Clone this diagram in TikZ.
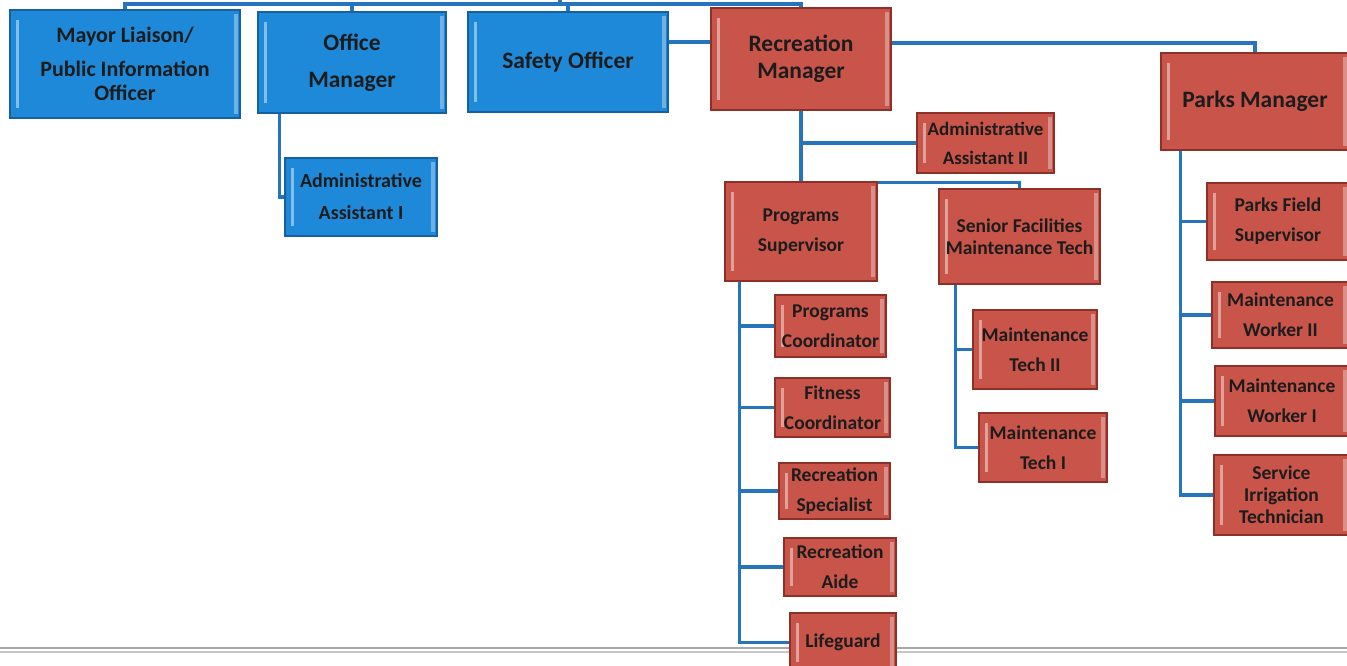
\documentclass[tikz,border=0pt]{standalone}
\usepackage{fontspec}
\setmainfont{Carlito}
\usetikzlibrary{calc}
\pgfdeclarelayer{background}
\pgfsetlayers{background,main}
\definecolor{boxblue}{RGB}{30,137,216}
\definecolor{edgeblue}{RGB}{22,96,160}
\definecolor{boxred}{RGB}{200,84,74}
\definecolor{edgered}{RGB}{140,48,40}
\definecolor{linkblue}{RGB}{38,116,188}
\definecolor{labeltext}{RGB}{28,28,28}
\tikzset{
  bevel/.style={path picture={
    \fill[white,opacity=.45] ([xshift=6pt,yshift=-10pt]path picture bounding box.north west)
      rectangle ([xshift=9pt,yshift=10pt]path picture bounding box.south west);
    \fill[white,opacity=.35] ([xshift=-6pt,yshift=-4pt]path picture bounding box.north east)
      rectangle ([xshift=-2pt,yshift=4pt]path picture bounding box.south east);
  }},
  unit/.style={draw, line width=1.2pt, inner sep=0pt, align=center,
    text=labeltext, font=\bfseries, bevel},
  bluebox/.style={unit, fill=boxblue, draw=edgeblue},
  redbox/.style={unit, fill=boxred, draw=edgered},
  big/.style={font=\fontsize{23.5}{27}\selectfont\bfseries},
  small/.style={font=\fontsize{19.5}{30}\selectfont\bfseries},
  tight/.style={font=\fontsize{19.5}{22}\selectfont\bfseries},
  conn/.style={draw=linkblue, line width=3.5pt},
}
\begin{document}
\begin{tikzpicture}[x=1pt,y=-1pt]
\useasboundingbox (0,0) rectangle (1347,665);

% department heads
\node[bluebox, minimum width=230, minimum height=108,
      font=\fontsize{22}{24}\selectfont\bfseries] (mayor) at (125,64)
      {Mayor Liaison/\\[10pt]Public Information\\Officer};
\node[bluebox, big, minimum width=188, minimum height=101,
      font=\fontsize{23.5}{37}\selectfont\bfseries] (om) at (352,62.5) {Office\\Manager};
\node[bluebox, big, minimum width=200, minimum height=100] (so) at (568,62) {Safety Officer};
\node[redbox, big, minimum width=180, minimum height=102] (rec) at (801,59) {Recreation\\Manager};
\node[redbox, big, minimum width=188, minimum height=97] (pm) at (1255,101.5) {Parks Manager};

% second level
\node[bluebox, small, minimum width=152, minimum height=78,
      font=\fontsize{20}{32}\selectfont\bfseries] (aa1) at (361,197) {Administrative\\Assistant I};
\node[redbox, small, minimum width=137, minimum height=60,
      font=\fontsize{19}{29}\selectfont\bfseries] (aa2) at (985.5,143) {Administrative\\Assistant II};
\node[redbox, small, minimum width=152, minimum height=99] (ps) at (801,231.5) {Programs\\Supervisor};
\node[redbox, tight, minimum width=161, minimum height=95] (sf) at (1019.5,236.5) {Senior Facilities\\Maintenance Tech};

% programs staff
\node[redbox, small, minimum width=111, minimum height=62] (pc) at (830.5,326) {Programs\\Coordinator};
\node[redbox, small, minimum width=115, minimum height=59] (fc) at (832.5,407.5) {Fitness\\Coordinator};
\node[redbox, small, minimum width=111, minimum height=56] (rs) at (834.5,491) {Recreation\\Specialist};
\node[redbox, small, minimum width=112, minimum height=58] (ra) at (840,567) {Recreation\\Aide};
\node[redbox, small, minimum width=106, minimum height=59] (lg) at (843,642.5) {Lifeguard};

% facilities staff
\node[redbox, small, minimum width=124, minimum height=79] (mt2) at (1035,349.5) {Maintenance\\Tech II};
\node[redbox, small, minimum width=128, minimum height=69] (mt1) at (1043,447.5) {Maintenance\\Tech I};

% parks staff
\node[redbox, small, minimum width=142, minimum height=77] (pfs) at (1278,221.5) {Parks Field\\Supervisor};
\node[redbox, small, minimum width=137, minimum height=66] (mw2) at (1280.5,315) {Maintenance\\Worker II};
\node[redbox, small, minimum width=134, minimum height=70] (mw1) at (1282,401) {Maintenance\\Worker I};
\node[redbox, tight, minimum width=135, minimum height=80] (sit) at (1281.5,495) {Service\\Irrigation\\Technician};

% connectors and page rule, kept beneath the boxes
\begin{pgfonlayer}{background}
\draw[gray!70, line width=1.5pt] (0,648) -- (1347,648);
\draw[gray!45, line width=1.2pt] (0,652) -- (1347,652);

\coordinate (bus) at (560,4);
\coordinate (up) at (560,-6);
\path[conn] (mayor.north) |- (bus) -| (rec.north);
\path[conn] (om.north) -- (om.north |- bus);
\path[conn] (so.north) -- (so.north |- bus);
\path[conn] (bus) -- (up);

\coordinate (sr) at ([yshift=20pt]so.east);
\path[conn] (sr) -- (sr -| rec.west);
\path[conn] ([yshift=16pt]rec.east) -| (pm.north);

\coordinate (omb) at ([xshift=22pt]om.south west);
\path[conn] (omb) |- (aa1.west);

\path[conn] (rec.south) -- (ps.north);
\path[conn] (rec.south |- aa2.west) -- (aa2.west);
\path[conn] ([yshift=-1pt]ps.north) -| (sf.north);

\coordinate (psb) at ([xshift=15pt]ps.south west);
\path[conn] (psb) |- (lg.west);
\foreach \k in {pc,fc,rs,ra}
  \path[conn] (psb |- \k.west) -- (\k.west);

\coordinate (sfb) at ([xshift=17pt]sf.south west);
\path[conn] (sfb) |- (mt1.west);
\path[conn] (sfb |- mt2.west) -- (mt2.west);

\coordinate (pmb) at ([xshift=20pt]pm.south west);
\path[conn] (pmb) |- (sit.west);
\foreach \k in {pfs,mw2,mw1}
  \path[conn] (pmb |- \k.west) -- (\k.west);
\end{pgfonlayer}
\end{tikzpicture}
\end{document}
